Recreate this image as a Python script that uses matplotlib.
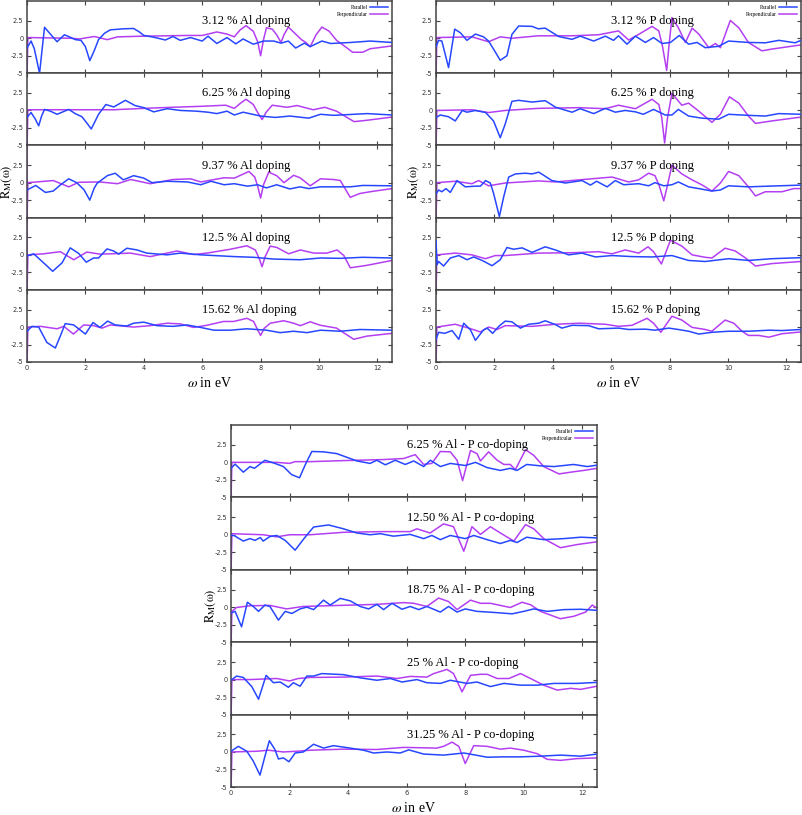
import matplotlib.pyplot as plt

plt.rcParams['mathtext.fontset'] = 'stix'

BLUE = '#2747ff'
PURPLE = '#b43ff2'

# ---- Al doping (left) ----
al312_par = [(0, -1.4), (0.14, -0.4), (0.25, -1.5), (0.43, -5.0), (0.52, -1.5), (0.6, 1.57), (0.8, 0.6), (1.03, -0.5),
             (1.28, 0.5), (1.45, 0.2), (1.66, -0.2), (1.85, -0.3), (2.0, -1.2), (2.15, -3.2), (2.3, -1.8), (2.45, -0.2),
             (2.65, 0.7), (2.85, 1.2), (3.3, 1.35), (3.65, 1.4), (3.85, 0.9), (4.0, 0.4), (4.34, 0.15), (4.74, -0.25),
             (5.0, 0.25), (5.25, -0.3), (5.6, 0.1), (6.0, -0.4), (6.2, 0.3), (6.5, -0.75), (6.85, 0.1), (7.15, -0.8),
             (7.4, -0.1), (7.75, -0.85), (8.1, -0.4), (8.45, -0.4), (8.7, -0.7), (8.95, -0.4), (9.2, -1.4), (9.5, -0.7),
             (9.7, -1.2), (10.1, -0.4), (10.4, -0.75), (11.1, -0.6), (11.75, -0.4), (12.5, -0.6)]
al312_perp = [(0, -5.5), (0.03, 0.1), (1.5, 0.0), (1.8, -0.1), (2.3, 0.25), (2.75, -0.2), (3.1, 0.2), (4.0, 0.3),
              (5.5, 0.4), (6.0, 0.4), (6.5, 0.9), (6.85, 0.6), (7.1, 0.2), (7.3, 1.2), (7.5, 1.8), (7.75, 1.0),
              (7.9, -0.5), (8.0, -2.5), (8.1, -0.2), (8.2, 1.5), (8.4, 1.3), (8.55, 0.5), (8.7, -0.6), (8.8, 0.5),
              (8.95, 1.6), (9.2, 0.6), (9.4, -0.2), (9.55, -0.6), (9.7, -1.2), (9.9, 0.5), (10.1, 1.6), (10.35, 1.0),
              (10.6, -0.3), (10.9, -1.2), (11.15, -2.0), (11.5, -2.0), (11.75, -1.5), (12.5, -1.1)]

al625_par = [(0, -1.0), (0.14, -0.3), (0.28, -1.2), (0.4, -2.2), (0.5, -0.8), (0.6, 0.15), (0.8, -0.1), (1.03, -0.55),
             (1.43, 0.15), (1.65, -0.45), (1.88, -0.9), (2.05, -1.8), (2.2, -2.65), (2.35, -1.4), (2.45, -0.55),
             (2.7, 0.85), (2.97, 0.5), (3.37, 1.45), (3.7, 0.7), (4.0, 0.4), (4.34, -0.2), (4.8, 0.25), (5.25, 0.0),
             (5.8, -0.1), (6.2, -0.25), (6.5, -0.45), (6.85, -0.1), (7.1, -0.65), (7.4, -0.25), (8.0, -0.8),
             (8.5, -1.0), (9.0, -0.8), (9.65, -1.1), (10.05, -0.55), (10.5, -0.7), (11.65, -0.45), (12.5, -0.65)]
al625_perp = [(0, -5.5), (0.03, 0.1), (3.0, 0.1), (3.2, 0.15), (4.3, 0.35), (6.0, 0.6), (6.8, 0.75), (7.1, 0.3),
              (7.3, 1.0), (7.5, 1.6), (7.75, 0.85), (7.9, -0.3), (8.05, -1.3), (8.2, -0.2), (8.4, 0.75), (8.9, 0.45),
              (9.25, 0.7), (9.8, 0.1), (10.2, 0.45), (10.6, -0.1), (11.2, -1.6), (11.65, -1.4), (12.5, -0.95)]

al937_par = [(0, -1.05), (0.3, -0.4), (0.63, -1.4), (0.9, -1.2), (1.15, -0.3), (1.43, 0.55), (1.7, 0.0), (1.95, -1.0),
             (2.15, -2.5), (2.3, -0.8), (2.4, -0.1), (2.75, 1.0), (3.02, 1.35), (3.3, 0.4), (3.65, 1.0), (4.0, 0.65),
             (4.28, 0.0), (4.8, 0.2), (5.5, 0.1), (5.95, -0.3), (6.3, 0.2), (6.75, -0.3), (7.1, -0.15), (7.55, -0.5),
             (7.9, -0.3), (8.2, -0.75), (8.55, -0.3), (9.0, -0.9), (9.35, -0.6), (9.65, -0.85), (10.05, -0.6),
             (10.5, -0.6), (11.07, -0.6), (11.5, -0.4), (12.5, -0.45)]
al937_perp = [(0, 5.5), (0, -5.5), (0.03, 0.0), (0.9, 0.3), (1.43, -0.6), (1.77, 0.05), (2.5, 0.1), (3.1, -0.15),
              (3.55, 0.45), (4.22, -0.15), (5.0, 0.45), (5.6, 0.55), (5.95, 0.1), (6.75, 0.7), (7.1, 0.65), (7.6, 1.6),
              (7.8, 0.8), (7.9, -0.5), (8.0, -2.2), (8.1, -0.3), (8.28, 1.5), (8.55, 1.0), (8.8, 0.0), (9.13, 1.05),
              (9.35, 0.7), (9.7, -0.45), (10.05, 0.55), (10.5, 0.45), (10.73, 0.3), (11.07, -2.1), (11.4, -1.55),
              (11.75, -1.3), (12.5, -0.85)]

al125_par = [(0, -0.15), (0.23, 0.15), (0.57, -1.15), (0.88, -2.35), (1.2, -1.15), (1.48, 1.0), (1.77, 0.2),
             (2.03, -1.05), (2.28, -0.45), (2.45, -0.45), (2.74, 0.85), (2.97, 0.55), (3.14, 0.1), (3.42, 0.95),
             (3.77, 0.7), (4.1, 0.25), (4.8, 0.0), (5.25, 0.25), (5.95, 0.0), (7.1, -0.25), (7.76, -0.35),
             (8.45, -0.6), (9.36, -0.7), (10.05, -0.45), (10.73, -0.5), (11.5, -0.35), (12.5, -0.45)]
al125_perp = [(0, 5.5), (0, -5.5), (0.03, 0.0), (0.57, 0.15), (1.14, 0.45), (1.6, -0.7), (2.05, 0.4), (2.5, 0.1),
              (3.54, 0.25), (4.22, -0.25), (5.14, 0.55), (5.7, 0.05), (6.16, 0.25), (6.96, 0.8), (7.53, 1.3),
              (7.82, 0.7), (7.95, -0.5), (8.05, -1.7), (8.15, -0.3), (8.33, 1.25), (8.56, 1.05), (8.96, 0.15),
              (9.36, 0.7), (9.82, 0.25), (10.27, 0.25), (10.62, 0.7), (10.85, -0.1), (11.07, -1.85), (11.64, -1.5),
              (12.5, -0.8)]

al1562_par = [(0, -0.6), (0.17, 0.1), (0.4, 0.0), (0.68, -2.2), (0.97, -3.0), (1.14, -1.3), (1.31, 0.5), (1.6, 0.3),
              (2.0, -1.0), (2.26, 0.65), (2.5, -0.05), (2.76, 0.85), (3.02, 0.3), (3.42, 0.15), (3.65, 0.55),
              (4.0, 0.7), (4.45, 0.2), (5.0, 0.1), (5.48, 0.3), (5.94, -0.05), (6.4, -0.45), (6.96, -0.45),
              (7.53, -0.25), (8.2, -0.45), (8.67, -0.8), (9.13, -0.6), (9.59, -0.8), (10.05, -0.45), (10.73, -0.6),
              (11.4, -0.35), (12.5, -0.45)]
al1562_perp = [(0, -5.5), (0.03, 0.0), (0.46, 0.1), (1.03, -0.25), (1.26, 0.1), (1.59, -1.0), (1.94, 0.3),
               (2.28, 0.2), (2.57, -0.15), (2.85, 0.3), (3.65, 0.0), (4.22, 0.2), (4.8, 0.55), (5.25, 0.45),
               (5.7, -0.05), (6.16, 0.25), (6.73, 0.8), (7.08, 0.8), (7.53, 1.25), (7.76, 0.8), (7.9, -0.4),
               (8.0, -1.2), (8.12, -0.2), (8.33, 0.55), (8.79, 0.9), (9.13, 0.55), (9.36, 0.2), (9.7, 0.75),
               (10.05, 0.25), (10.6, -0.15), (11.19, -1.75), (11.64, -1.3), (12.5, -0.9)]

# ---- P doping (right) ----
p312_par = [(0, -1.25), (0.09, -0.3), (0.2, -0.4), (0.43, -4.2), (0.64, 1.3), (0.83, 0.8), (1.06, -0.3), (1.35, 0.6),
            (1.63, 0.2), (1.8, -0.4), (1.97, -1.55), (2.2, -3.15), (2.43, -2.5), (2.6, 0.55), (2.83, 1.75),
            (3.29, 1.7), (3.5, 1.35), (3.74, 1.45), (4.2, 0.25), (4.66, -0.15), (4.94, 0.3), (5.4, -0.4), (5.8, 0.3),
            (6.08, -0.3), (6.25, 0.35), (6.54, -0.85), (6.83, 0.3), (7.17, -0.6), (7.45, 0.1), (7.74, -0.75),
            (8.03, -0.6), (8.33, 0.4), (8.65, -0.85), (8.94, -0.6), (9.22, -1.35), (9.68, -1.15), (10.02, -0.4),
            (10.7, -0.6), (11.28, -0.65), (11.74, -0.3), (12.3, -0.65), (12.5, -0.3)]
p312_perp = [(0, -5.5), (0.03, 0.1), (1.23, 0.2), (1.8, -0.5), (2.2, 0.2), (2.6, 0.0), (3.5, 0.35), (4.66, 0.35),
             (5.57, 0.5), (6.25, 1.05), (6.6, -0.25), (6.94, 0.55), (7.4, 1.7), (7.63, 1.05), (7.75, -1.0),
             (7.9, -4.6), (7.98, -1.0), (8.08, 2.95), (8.3, 1.5), (8.54, -0.6), (8.77, 1.45), (9.0, 0.6),
             (9.34, -1.35), (9.57, -0.75), (9.74, -1.35), (10.08, 2.55), (10.37, 1.5), (10.7, -0.6), (11.16, -1.8),
             (11.5, -1.55), (12.5, -0.95)]

p625_par = [(0, -1.0), (0.15, -0.65), (0.43, -0.9), (0.66, -1.5), (0.9, 0.0), (1.06, -0.25), (1.35, 0.0),
            (1.7, -0.3), (1.97, -1.5), (2.2, -3.9), (2.37, -1.95), (2.6, 1.3), (2.83, 1.45), (3.29, 1.2), (3.74, 1.4),
            (4.1, 0.45), (4.66, -0.25), (4.94, 0.25), (5.4, -0.45), (5.8, 0.3), (6.14, -0.25), (6.48, 0.0),
            (6.83, -0.2), (7.1, -0.55), (7.45, 0.15), (7.85, -0.65), (8.08, -0.65), (8.3, 0.15), (8.65, -0.8),
            (9.1, -1.1), (9.68, -1.25), (10.02, -0.55), (10.7, -0.7), (11.28, -0.8), (11.74, -0.45), (12.5, -0.55)]
p625_perp = [(0, -5.5), (0.03, 0.0), (1.23, 0.1), (1.8, -0.3), (2.37, 0.0), (3.5, 0.3), (4.9, 0.4), (5.8, 0.25),
             (6.25, 0.75), (6.83, 0.25), (7.4, 1.6), (7.63, 0.85), (7.73, -1.0), (7.83, -4.65), (7.93, -1.0),
             (8.08, 2.45), (8.42, 0.75), (8.65, 1.05), (9.0, -0.1), (9.45, -1.7), (9.74, -0.55), (10.05, 1.95),
             (10.37, 1.05), (10.7, -0.8), (10.94, -1.85), (11.5, -1.5), (12.5, -0.95)]

p937_par = [(0, -1.6), (0.09, -1.05), (0.2, -1.3), (0.34, -0.85), (0.49, -1.4), (0.72, 0.3), (1.0, -0.6),
            (1.35, -0.5), (1.52, -0.5), (1.7, 0.3), (1.86, -0.05), (1.97, -1.5), (2.17, -4.85), (2.32, -2.0),
            (2.49, 0.8), (2.72, 1.25), (3.06, 1.35), (3.29, 1.25), (3.52, 1.5), (3.97, 0.3), (4.43, -0.05),
            (5.0, 0.3), (5.29, -0.35), (5.5, 0.2), (5.86, -0.6), (6.14, 0.3), (6.43, -0.3), (6.94, -0.15),
            (7.28, -0.45), (7.5, 0.0), (7.8, -0.45), (8.08, -0.3), (8.3, 0.1), (8.65, -0.6), (9.0, -0.85),
            (9.45, -1.2), (9.74, -1.05), (10.02, -0.45), (10.7, -0.6), (11.4, -0.5), (12.5, -0.35)]
p937_perp = [(0, -5.5), (0.03, 0.0), (0.66, 0.2), (1.23, -0.15), (1.46, 0.3), (1.8, -0.45), (2.37, -0.05),
             (3.52, 0.25), (4.09, 0.1), (4.9, 0.4), (6.03, 0.8), (6.6, 0.1), (6.94, 0.4), (7.28, 1.35), (7.5, 1.0),
             (7.65, -0.5), (7.8, -2.6), (7.92, -0.5), (8.08, 2.5), (8.42, 1.25), (8.77, 0.4), (9.1, -0.3),
             (9.45, -1.2), (9.74, -0.05), (10.02, 1.6), (10.37, 1.0), (10.7, -0.6), (10.94, -1.9), (11.28, -1.3),
             (11.85, -1.3), (12.25, -0.85), (12.5, -0.85)]

p125_par = [(0, 2.0), (0.04, -1.4), (0.09, -0.95), (0.26, -1.6), (0.49, -0.45), (0.78, -0.1), (1.06, -0.7),
            (1.29, -0.3), (1.58, -0.8), (1.92, -1.55), (2.2, -0.7), (2.43, 1.05), (2.66, 0.8), (2.95, 1.0),
            (3.29, 0.35), (3.74, 1.15), (4.09, 0.7), (4.54, 0.0), (5.0, 0.25), (5.46, -0.3), (6.03, -0.1),
            (6.71, -0.25), (7.4, -0.3), (8.08, -0.1), (8.65, -0.8), (9.22, -0.95), (10.02, -0.55), (10.7, -0.8),
            (11.5, -0.55), (12.5, -0.4)]
p125_perp = [(0, -5.5), (0.03, 0.0), (0.66, 0.25), (1.23, 0.0), (1.69, -0.55), (2.03, -0.1), (2.37, -0.1),
             (3.52, 0.25), (4.66, 0.3), (5.57, 0.45), (6.03, 0.15), (6.48, 0.7), (6.94, 0.25), (7.26, 1.15),
             (7.45, 0.45), (7.72, -1.3), (8.03, 2.1), (8.42, 1.25), (8.77, 0.0), (9.22, -0.35), (9.45, -0.45),
             (9.9, 0.95), (10.25, 0.55), (10.6, -0.45), (10.94, -1.6), (11.5, -1.25), (12.5, -0.95)]

p1562_par = [(0, -1.75), (0.09, -0.75), (0.3, -0.9), (0.55, -0.5), (0.78, -1.75), (0.95, 0.55), (1.18, -0.4),
             (1.35, -1.9), (1.63, -0.4), (1.75, -0.15), (1.94, -0.9), (2.15, 0.1), (2.37, 0.85), (2.6, 0.75),
             (2.89, -0.15), (3.17, 0.4), (3.52, 0.55), (3.74, 0.9), (4.09, 0.35), (4.31, -0.15), (4.66, 0.25),
             (5.23, 0.2), (5.57, -0.25), (6.25, -0.15), (6.6, -0.35), (7.17, -0.3), (7.5, -0.45), (7.97, -0.15),
             (8.3, -0.35), (8.65, -0.6), (9.0, -1.0), (9.45, -0.75), (10.02, -0.6), (10.7, -0.6), (11.4, -0.45),
             (11.85, -0.5), (12.5, -0.35)]
p1562_perp = [(0, -5.5), (0.03, 0.0), (0.66, 0.4), (1.12, -0.15), (1.52, -0.7), (1.8, 0.0), (2.09, -0.35),
              (2.37, 0.2), (3.29, 0.1), (4.09, 0.4), (4.9, 0.55), (5.8, 0.4), (6.25, 0.1), (6.71, 0.25), (7.23, 1.25),
              (7.45, 0.55), (7.7, -0.75), (8.08, 1.55), (8.42, 1.0), (8.77, -0.05), (9.22, -0.35), (9.45, -0.6),
              (9.9, 1.0), (10.2, 0.55), (10.48, -0.6), (10.7, -1.2), (11.05, -1.2), (11.4, -1.45), (11.85, -0.95),
              (12.5, -0.7)]

# ---- Al - P co-doping (bottom) ----
c625_par = [(0, -0.85), (0.14, -0.25), (0.42, -1.4), (0.65, -0.6), (0.8, -0.85), (1.16, 0.3), (1.5, -0.15),
            (1.79, -0.6), (2.07, -1.75), (2.34, -2.2), (2.53, -0.4), (2.76, 1.55), (3.16, 1.5), (3.61, 1.25),
            (4.3, 0.2), (4.75, -0.15), (4.98, 0.3), (5.27, -0.35), (5.61, 0.3), (5.95, -0.3), (6.24, 0.2),
            (6.58, -0.6), (6.81, 0.3), (7.15, -0.6), (7.49, -0.15), (8.0, -0.45), (8.35, 0.0), (8.75, -0.75),
            (9.2, -1.15), (9.54, -0.85), (9.77, -1.15), (10.1, -0.3), (10.57, -0.5), (11.03, -0.6), (11.7, -0.3),
            (12.17, -0.6), (12.5, -0.4)]
c625_perp = [(0, -5.5), (0.03, 0.0), (1.56, 0.0), (2.0, -0.15), (2.19, 0.1), (2.7, 0.1), (3.84, 0.25), (5.21, 0.4),
             (5.9, 0.55), (6.29, 1.1), (6.58, -0.3), (6.86, -0.15), (7.15, 1.55), (7.49, 1.5), (7.72, 0.3),
             (7.91, -2.6), (8.18, 1.7), (8.4, 1.25), (8.52, 0.2), (8.8, 1.5), (9.09, 0.3), (9.32, -0.3), (9.54, -0.3),
             (9.71, -1.05), (10.06, 1.8), (10.34, 1.0), (10.68, -0.6), (11.2, -1.65), (11.6, -1.4), (12.05, -1.15),
             (12.5, -0.85)]

c1250_par = [(0, -0.1), (0.1, -0.1), (0.42, -0.9), (0.65, -0.55), (0.82, -0.8), (1.0, -0.4), (1.1, -0.9),
             (1.33, -0.25), (1.56, -0.1), (1.85, -0.8), (2.19, -2.2), (2.53, -0.35), (2.82, 1.1), (3.33, 1.4),
             (3.84, 0.85), (4.3, 0.25), (4.75, 0.0), (5.1, 0.15), (5.55, -0.2), (6.12, 0.05), (6.58, -0.55),
             (6.86, -0.1), (7.15, -0.7), (7.49, -0.1), (8.0, -0.55), (8.29, -0.1), (8.75, -0.7), (9.2, -1.25),
             (9.54, -0.8), (9.77, -1.1), (10.1, -0.35), (10.68, -0.7), (11.37, -0.55), (11.94, -0.35), (12.5, -0.45)]
c1250_perp = [(0, -5.5), (0.03, 0.15), (1.1, 0.0), (1.56, -0.3), (2.0, 0.0), (2.7, 0.0), (3.84, 0.35), (5.21, 0.45),
              (6.12, 0.45), (6.35, 0.85), (6.8, 0.25), (7.26, 1.55), (7.6, 1.15), (7.95, -2.35), (8.23, 1.15),
              (8.52, 0.05), (8.86, 1.15), (9.2, 0.25), (9.66, -0.9), (10.06, 1.45), (10.34, 0.85), (10.68, -0.55),
              (11.25, -1.85), (11.82, -1.4), (12.5, -1.0)]

c1875_par = [(0, -0.85), (0.14, -0.6), (0.36, -2.8), (0.56, 0.7), (0.76, 0.1), (0.94, -0.6), (1.16, 0.3),
             (1.33, 0.1), (1.62, -1.85), (1.85, -0.6), (2.08, -0.9), (2.36, -0.25), (2.59, 0.0), (2.82, -0.35),
             (3.16, 1.0), (3.39, 0.3), (3.73, 1.25), (4.07, 0.9), (4.41, 0.1), (4.7, -0.25), (4.98, 0.4),
             (5.21, -0.35), (5.5, 0.55), (5.84, -0.3), (6.12, 0.1), (6.41, -0.35), (6.69, 0.1), (7.15, -0.7),
             (7.43, 0.1), (7.72, -0.7), (8.0, -0.25), (8.4, -0.6), (8.97, -0.75), (9.6, -0.95), (10.0, -0.6),
             (10.34, -0.25), (10.8, -0.6), (11.37, -0.35), (11.94, -0.3), (12.5, -0.45)]
c1875_perp = [(0, -5.5), (0.03, -0.6), (0.19, -0.05), (0.65, 0.2), (1.33, 0.25), (1.9, -0.25), (2.47, 0.1),
              (3.27, 0.2), (4.18, 0.3), (4.98, 0.4), (5.9, 0.65), (6.24, 0.55), (6.69, 0.1), (7.09, 1.3),
              (7.43, 0.8), (7.72, -0.35), (8.18, 1.0), (8.52, 0.55), (8.86, 0.55), (9.2, 0.25), (9.54, -0.05),
              (9.94, 0.7), (10.23, 0.35), (10.57, -0.6), (11.25, -1.65), (11.71, -1.3), (12.11, -0.7),
              (12.34, 0.3), (12.5, -0.15)]

c25_par = [(0, -0.1), (0.19, 0.5), (0.42, 0.3), (0.71, -1.0), (0.94, -2.8), (1.2, 0.6), (1.45, -0.45),
           (1.68, -0.35), (1.96, -1.1), (2.13, -0.45), (2.36, -0.95), (2.59, 0.5), (2.82, 0.5), (3.1, 0.85),
           (3.84, 0.7), (4.41, 0.25), (4.98, -0.1), (5.44, 0.15), (5.84, -0.35), (6.35, 0.0), (6.69, -0.45),
           (7.15, -0.55), (7.49, -0.1), (8.06, -0.55), (8.4, -0.35), (8.86, -1.0), (9.32, -0.55), (9.89, -0.8),
           (10.46, -0.8), (11.03, -0.55), (11.82, -0.55), (12.5, -0.4)]
c25_perp = [(0, -5.5), (0.03, 0.0), (0.65, 0.0), (1.56, 0.15), (2.0, -0.2), (2.3, 0.15), (2.7, 0.3), (3.84, 0.35),
            (4.98, 0.5), (5.67, 0.15), (6.12, 0.45), (6.69, 0.35), (6.92, 0.85), (7.38, 1.45), (7.6, 0.85),
            (7.89, -1.75), (8.18, 0.6), (8.52, 0.75), (8.75, 0.75), (9.09, 0.15), (9.49, 0.15), (9.89, 0.85),
            (10.23, 0.15), (10.68, -0.8), (11.14, -1.5), (11.6, -1.25), (11.94, -1.4), (12.5, -0.95)]

c3125_par = [(0, 0.1), (0.25, 0.8), (0.54, 0.1), (0.76, -1.3), (0.99, -3.3), (1.16, -0.6), (1.31, 1.6), (1.5, 0.35),
             (1.62, -1.0), (1.79, -0.85), (1.98, -1.4), (2.19, -0.15), (2.47, 0.0), (2.82, 1.1), (3.16, 0.55),
             (3.5, 0.9), (4.07, 0.55), (4.53, 0.25), (4.87, -0.15), (5.33, 0.0), (5.78, -0.15), (6.07, 0.3),
             (6.58, -0.3), (7.26, -0.45), (7.95, -0.15), (8.29, -0.4), (8.75, -0.75), (9.32, -0.7), (9.89, -0.7),
             (10.57, -0.6), (11.25, -0.45), (11.94, -0.6), (12.5, -0.3)]
c3125_perp = [(0, -5.5), (0.03, 0.0), (0.88, 0.1), (1.28, 0.25), (1.79, 0.0), (2.25, 0.1), (2.7, 0.25), (3.84, 0.4),
              (4.98, 0.35), (5.9, 0.65), (7.03, 0.55), (7.26, 0.8), (7.55, 1.4), (7.78, 0.8), (8.0, -1.65),
              (8.29, 0.9), (8.75, 0.8), (9.2, 0.4), (9.54, 0.55), (10.0, 0.25), (10.46, -0.25), (10.8, -1.05),
              (11.25, -1.2), (11.82, -0.95), (12.5, -0.85)]

al_titles = ['3.12 % Al doping', '6.25 % Al doping', '9.37 % Al doping', '12.5 % Al doping', '15.62 % Al doping']
p_titles = ['3.12 % P doping', '6.25 % P doping', '9.37 % P doping', '12.5 % P doping', '15.62 % P doping']
c_titles = ['6.25 % Al - P co-doping', '12.50 % Al - P co-doping', '18.75 % Al - P co-doping',
            '25 % Al - P co-doping', '31.25 % Al - P co-doping']

yticks = [-5, -2.5, 0, 2.5]
ytick_labels = ['-5', '-2.5', '0', '2.5']
xticks = [0, 2, 4, 6, 8, 10, 12]

W, H = 803, 815
fig = plt.figure(figsize=(W / 100, H / 100), dpi=100)
TICK_FONT = ['Liberation Sans Narrow', 'DejaVu Sans']


def draw_panel(left, top, bottom, width, titles, curves, ylab_x):
    h = (bottom - top) / 5
    for i in range(5):
        y0 = top + i * h
        ax = fig.add_axes([left / W, 1 - (y0 + h) / H, width / W, h / H])
        par, perp = curves[i]
        ax.plot(*zip(*par), color=BLUE, lw=1.1, solid_joinstyle='round', label='Parallel', zorder=3)
        ax.plot(*zip(*perp), color=PURPLE, lw=1.1, solid_joinstyle='round', label='Perpendicular', zorder=2)
        ax.set_xlim(0, 12.5)
        ax.set_ylim(-5, 5.33)
        ax.set_yticks(yticks)
        ax.set_yticklabels(ytick_labels, family=TICK_FONT)
        ax.set_xticks(xticks)
        ax.set_xticklabels([str(t) for t in xticks], family=TICK_FONT)
        ax.tick_params(direction='in', length=3, width=0.8, color='#444444', top=True, right=True,
                       labelsize=4.8, labelcolor='#333333', pad=2.5)
        for s in ax.spines.values():
            s.set_color('#444444')
            s.set_linewidth(1.1)
        ax.text(6.0, 2.0, titles[i], family='Liberation Serif', fontsize=9, va='baseline', ha='left')
        if i == 0:
            ax.legend(loc='upper right', markerfirst=False, frameon=False,
                      handlelength=3.2, handletextpad=0.5, borderaxespad=0.3, labelspacing=0.4,
                      prop={'family': 'Liberation Serif', 'size': 4})
        if i < 4:
            ax.set_xticklabels([])
        else:
            ax.text(0.5, -0.29, r'$\omega$ in eV', transform=ax.transAxes, ha='center', va='center',
                    family='Liberation Serif', fontsize=10)
    fig.text(ylab_x / W, 1 - (top + bottom) / 2 / H, r'$\mathrm{R_M(\omega)}$', rotation=90,
             ha='center', va='center', fontsize=9)


draw_panel(27, 1, 362, 365, al_titles,
           [(al312_par, al312_perp), (al625_par, al625_perp), (al937_par, al937_perp),
            (al125_par, al125_perp), (al1562_par, al1562_perp)], 6.5)
draw_panel(436, 1, 362, 365, p_titles,
           [(p312_par, p312_perp), (p625_par, p625_perp), (p937_par, p937_perp),
            (p125_par, p125_perp), (p1562_par, p1562_perp)], 414)
draw_panel(231, 425, 787, 366, c_titles,
           [(c625_par, c625_perp), (c1250_par, c1250_perp), (c1875_par, c1875_perp),
            (c25_par, c25_perp), (c3125_par, c3125_perp)], 211)

fig.savefig('out.png', dpi=100)
